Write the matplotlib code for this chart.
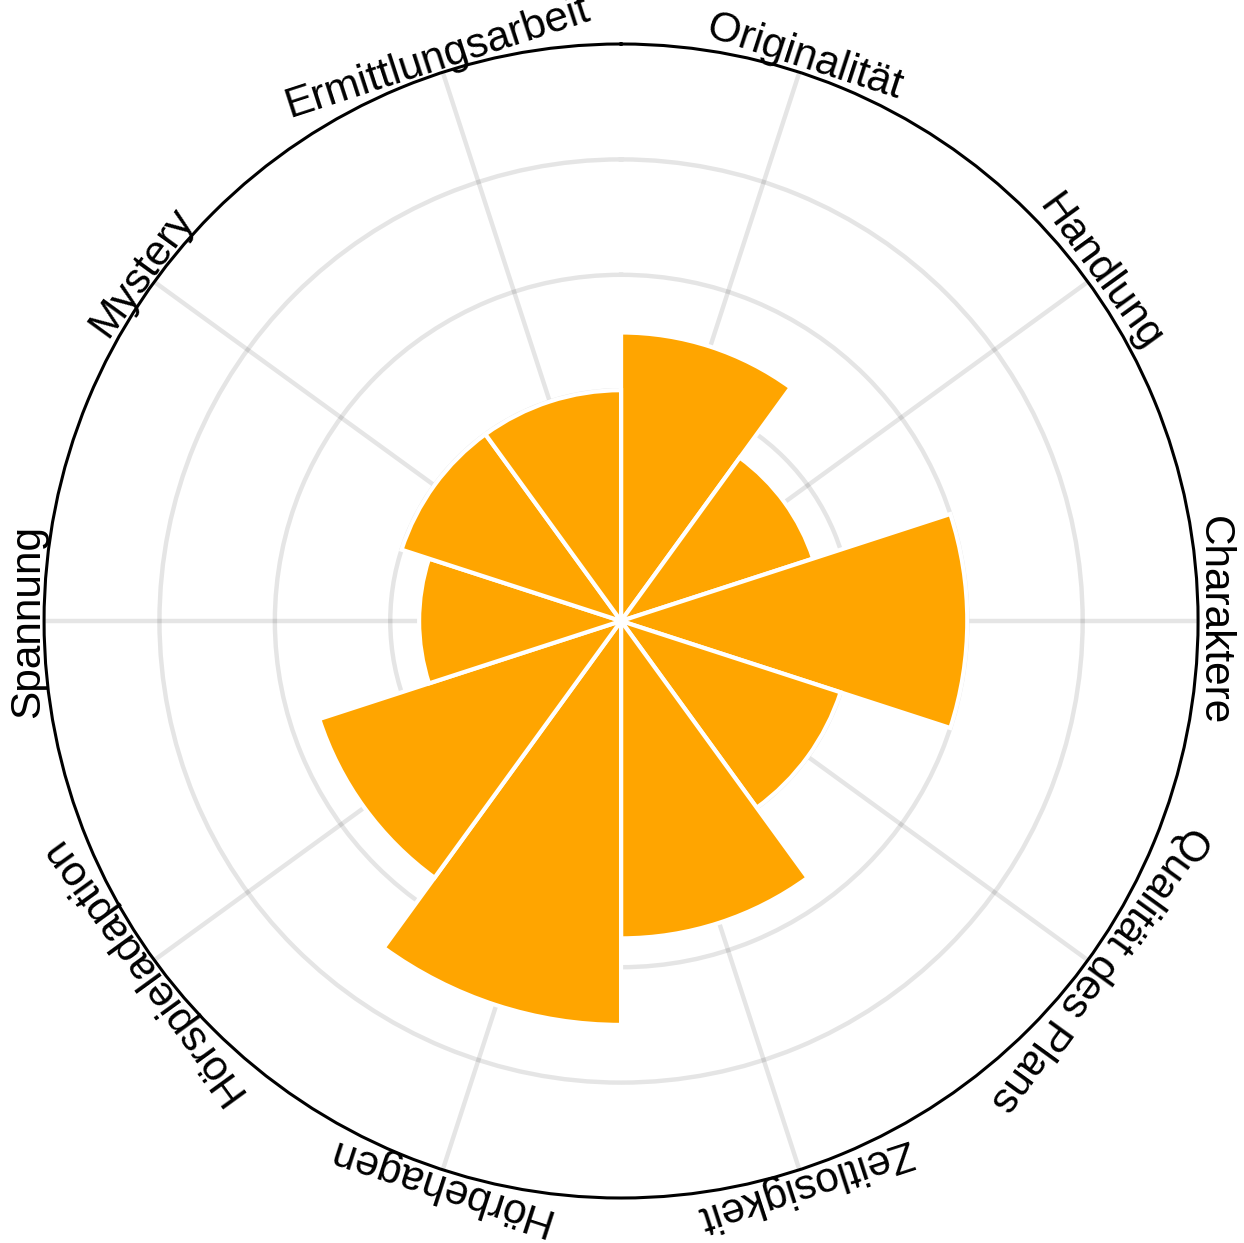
import numpy as np
import matplotlib
matplotlib.use("Agg")
import matplotlib.pyplot as plt

# ===== DATA =====
categories = ["Originalität", "Handlung", "Charaktere", "Qualität des Plans",
              "Zeitlosigkeit", "Hörbehagen", "Hörspieladaption", "Spannung",
              "Mystery", "Ermittlungsarbeit"]
scores = [2.5, 1.75, 3.0, 2.0, 2.75, 3.5, 2.75, 1.75, 2.0, 2.0]
r_max = 5
r_grid = [1, 2, 3, 4]

plt.rcParams["font.family"] = ["Liberation Sans", "DejaVu Sans"]

n = len(categories)
width = 2 * np.pi / n
theta = np.arange(n) * width + width / 2

fig = plt.figure(figsize=(12.44, 12.43), dpi=100)
ax = fig.add_axes([0.0354, 0.0362, 0.9277, 0.9284], projection="polar")
ax.set_theta_zero_location("N")
ax.set_theta_direction(-1)
ax.set_axisbelow(True)

ax.bar(theta, scores, width=width, bottom=0, color="#FFA500",
       edgecolor="white", linewidth=3, zorder=3)

ax.set_ylim(0, r_max)
ax.set_rgrids(r_grid, labels=[""] * len(r_grid))
ax.set_thetagrids(np.degrees(theta), labels=[""] * n)
ax.grid(True, color="black", alpha=0.1, linewidth=3.2)
ax.tick_params(length=0, pad=0)
ax.spines["polar"].set_color("black")
ax.spines["polar"].set_linewidth(2.2)

# tangential category labels around the rim
for t, lab in zip(theta, categories):
    ax.text(t, r_max * 1.008, lab, rotation=-np.degrees(t),
            rotation_mode="anchor", ha="center", va="baseline",
            fontsize=30.5, clip_on=False)

fig.savefig("out.png", dpi=100, facecolor="white")
